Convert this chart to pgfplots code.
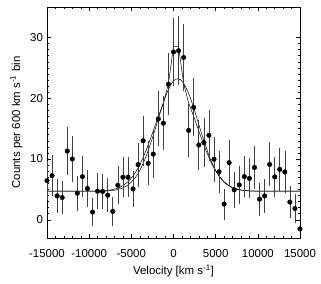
\documentclass[border=0pt]{standalone}
\usepackage{pgfplots}
\pgfplotsset{compat=1.18}
\usepackage{pgfplotstable}
\usepackage{fontspec}
\setmainfont{Liberation Sans}
\usetikzlibrary{calc}

\pgfplotstableread{
v c e
-15000 6.44 3.23
-14400 7.26 3.36
-13800 3.93 2.82
-13200 3.66 2.77
-12600 11.3 3.91
-12000 10.0 3.74
-11400 4.37 2.89
-10800 7.10 3.33
-10200 5.14 3.02
-9600 1.26 2.29
-9000 4.70 2.95
-8400 4.64 2.94
-7800 4.04 2.84
-7200 1.37 2.32
-6600 5.68 3.11
-6000 7.00 3.32
-5400 7.00 3.32
-4800 5.08 3.01
-4200 9.07 3.62
-3600 13.0 4.12
-3000 9.29 3.65
-2400 10.8 3.85
-1800 16.6 4.54
-1200 15.9 4.46
-600 22.3 5.13
0 27.6 5.62
600 27.8 5.64
1200 26.7 5.54
1800 14.7 4.32
2400 18.5 4.74
3000 12.3 4.04
3600 12.7 4.09
4200 13.9 4.23
4800 9.95 3.73
5400 7.90 3.45
6000 2.57 2.56
6600 9.40 3.66
7200 4.92 2.99
7800 5.74 3.12
8400 7.10 3.33
9000 6.80 3.29
9600 8.60 3.55
10200 3.39 2.72
10800 3.93 2.82
11400 9.10 3.62
12000 7.05 3.32
12600 8.30 3.51
13200 7.87 3.45
13800 2.90 2.63
14400 1.85 2.42
15000 -1.50 1.58
}\datatable

\pgfplotstableread{
v n
-15000 4.70
-9600 4.70
-9000 4.73
-8400 4.76
-7800 4.83
-7200 4.97
-6600 5.20
-6000 5.60
-5400 6.24
-4800 7.18
-4200 8.50
-3600 10.22
-3000 12.30
-2400 14.62
-1800 16.97
-1200 19.19
-600 22.41
0 28.47
600 28.47
1200 22.41
1800 19.19
2400 16.97
3000 14.62
3600 12.30
4200 10.22
4800 8.50
5400 7.18
6000 6.24
6600 5.60
7200 5.20
7800 4.97
8400 4.83
9000 4.76
9600 4.73
10200 4.70
15000 4.70
}\narrowtable

\pgfplotstableread{
v b
-15000 4.70
-8600 4.71
-8000 4.74
-7400 4.80
-6800 4.92
-6200 5.14
-5600 5.53
-5000 6.19
-4400 7.20
-3800 8.66
-3200 10.62
-2600 13.01
-2000 15.69
-1400 18.40
-800 20.77
-200 22.46
200 23.06
500 23.20
800 23.06
1200 22.46
1800 20.77
2400 18.40
3000 15.69
3600 13.01
4200 10.62
4800 8.66
5400 7.20
6000 6.19
6600 5.53
7200 5.14
7800 4.92
8400 4.80
9000 4.74
9600 4.71
15000 4.70
}\broadtable

\begin{document}
\fontsize{11.5}{13}\selectfont
\begin{tikzpicture}
\begin{axis}[
  width=253bp, height=231bp, scale only axis,
  xmin=-15000, xmax=15000, ymin=-3, ymax=35,
  xtick={-15000,-10000,...,15000},
  ytick={0,10,20,30},
  minor x tick num=4, minor y tick num=9,
  tick align=inside, tick pos=both,
  major tick length=4bp, minor tick length=2bp,
  axis line style={line width=0.5pt},
  every tick/.style={line width=0.4pt, black},
  /pgf/number format/assume math mode=true,
  /pgf/number format/set thousands separator={},
  scaled x ticks=false,
  xticklabel style={yshift=-7bp},
  yticklabel style={xshift=0bp},
  xlabel={Velocity [km s\textsuperscript{-1}]},
  ylabel={Counts per 600 km s\textsuperscript{-1} bin},
  xlabel style={yshift=0bp},
  ylabel style={yshift=0bp},
  tick label style={font=\fontsize{11.5}{13}\selectfont},
  label style={font=\fontsize{11.5}{13}\selectfont},
  clip=true,
]
\addplot[black, line width=0.5pt] table[x=v,y=n] {\narrowtable};
\addplot[black, line width=0.5pt, smooth] table[x=v,y=b] {\broadtable};
\addplot[only marks, mark=*, mark size=2.3bp, black,
  error bars/.cd, y dir=both, y explicit,
  error bar style={line width=0.6pt, black!75}, error mark=none]
  table[x=v,y=c,y error=e] {\datatable};
\end{axis}
\path ($(current axis.south west)+(-47bp,-46bp)$) rectangle ($(current axis.north east)+(21bp,7bp)$);
\end{tikzpicture}
\end{document}
